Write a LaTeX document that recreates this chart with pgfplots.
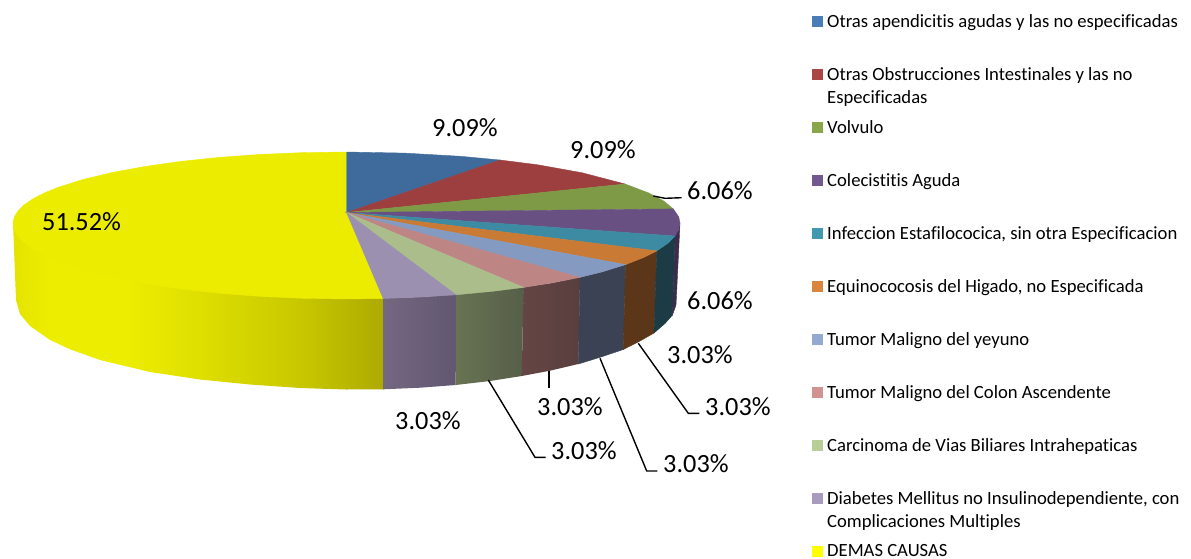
\documentclass[border=0pt]{standalone}
\usepackage{fontspec}
\setmainfont[Ligatures=NoCommon]{Carlito}
\usepackage{pgfplots}
\pgfplotsset{compat=1.18}
\definecolor{tBlue}{HTML}{3F6A9C}
\definecolor{tRed}{HTML}{9C3F3E}
\definecolor{tGreen}{HTML}{7E9A47}
\definecolor{tPurple}{HTML}{685082}
\definecolor{tTeal}{HTML}{3D8BA3}
\definecolor{tOrange}{HTML}{C97A35}
\definecolor{tLBlue}{HTML}{849AC0}
\definecolor{tPink}{HTML}{BE8585}
\definecolor{tLGreen}{HTML}{ABBD8A}
\definecolor{tLav}{HTML}{9B90B0}
\definecolor{tYel}{HTML}{ECEC00}
\definecolor{wPurple}{HTML}{3A2D4C}
\definecolor{wTeal}{HTML}{1C3B45}
\definecolor{wOrange}{HTML}{5B3618}
\definecolor{wLBlue}{HTML}{3B4254}
\definecolor{yA}{HTML}{E3E300}
\definecolor{yB}{HTML}{EDED00}
\definecolor{yC}{HTML}{DFDF00}
\definecolor{yD}{HTML}{C8C800}
\definecolor{yE}{HTML}{AEAA00}
\definecolor{lavA}{HTML}{736880}
\definecolor{lavB}{HTML}{625770}
\definecolor{lgA}{HTML}{687353}
\definecolor{lgB}{HTML}{565F48}
\definecolor{pkA}{HTML}{654544}
\definecolor{pkB}{HTML}{583F3E}
\definecolor{lBlue}{HTML}{4A7CB5}
\definecolor{lRed}{HTML}{AA4644}
\definecolor{lGreen}{HTML}{8AA64A}
\definecolor{lPurple}{HTML}{71588F}
\definecolor{lTeal}{HTML}{4198AF}
\definecolor{lOrange}{HTML}{DB843D}
\definecolor{lLBlue}{HTML}{93A9CF}
\definecolor{lPink}{HTML}{D19392}
\definecolor{lLGreen}{HTML}{B9CD96}
\definecolor{lLav}{HTML}{A99BBD}
\definecolor{lYel}{HTML}{FFFF00}
\pgfdeclarehorizontalshading{ywall}{100bp}{color(0bp)=(yA);color(25bp)=(yA);color(30bp)=(yB);color(40bp)=(yB);color(50bp)=(yC);color(63.5bp)=(yD);color(75bp)=(yE);color(100bp)=(yE)}
\pgfdeclarehorizontalshading{lavwall}{100bp}{color(0bp)=(lavA);color(25bp)=(lavA);color(75bp)=(lavB);color(100bp)=(lavB)}
\pgfdeclarehorizontalshading{lgwall}{100bp}{color(0bp)=(lgA);color(25bp)=(lgA);color(75bp)=(lgB);color(100bp)=(lgB)}
\pgfdeclarehorizontalshading{pkwall}{100bp}{color(0bp)=(pkA);color(25bp)=(pkA);color(75bp)=(pkB);color(100bp)=(pkB)}
\pgfplotsset{
  sl/.style={fill=#1,draw=#1,line width=0.4pt,no markers,forget plot},
  lead/.style={draw=black,line width=1.4pt,no markers,forget plot},
  key/.style={fill=#1,draw=none,no markers,forget plot}
}
\newcommand{\dlab}[2]{\node[anchor=base west,inner sep=0pt,font=\fontsize{26.3}{30}\selectfont] at (axis cs:#1) {#2};}
\newcommand{\ltxt}[2]{\node[anchor=base west,inner sep=0pt,font=\fontsize{18.65}{20}\selectfont] at (axis cs:#1) {#2};}
\begin{document}
\begin{tikzpicture}
\begin{axis}[
  scale only axis, width=1191pt, height=558pt,
  xmin=0, xmax=1191, ymin=0, ymax=558, y dir=reverse,
  hide axis, clip=false
]
\path (rel axis cs:0,0) rectangle (rel axis cs:1,1);
% side walls
\addplot[shade,shading=ywall,draw=none,no markers,forget plot] coordinates {
 (13,223)(16,300)(20,314)(30,326)(50,340)(70,349.3)(100,360)(150,372)(200,379.5)(250,384.5)(300,388)(346,389.5)(383.5,389.3)(383.5,298)} --cycle;
\addplot[shade,shading=lavwall,draw=none,no markers,forget plot] coordinates {
 (383.2,298)(383,389.3)(420,387.7)(455.7,385)(456,294)(421.5,297)} --cycle;
\addplot[shade,shading=lgwall,draw=none,no markers,forget plot] coordinates {
 (456,294)(455.7,385)(490,381)(521.7,376)(523.6,287)(492.6,291)} --cycle;
\addplot[shade,shading=pkwall,draw=none,no markers,forget plot] coordinates {
 (523.6,287)(521.7,376)(550,370.7)(578.3,364)(580,277)(551.9,283)} --cycle;
\addplot[sl=wLBlue] coordinates {(580,277.3)(578.3,364)(601,357)(623.3,349.5)(625.6,264.6)(602,271.9)} --cycle;
\addplot[sl=wOrange] coordinates {(625.6,264.6)(623.3,349.5)(640,341)(654,333)(656.8,250.9)(643.6,257.5)} --cycle;
\addplot[sl=wTeal] coordinates {(656.8,250.9)(654,333)(665,323.5)(672.5,315)(675,236)(668.6,242.7)} --cycle;
\addplot[sl=wPurple] coordinates {(675,236)(672.5,315)(676,305)(680,223)(678.7,229.6)} --cycle;
% top face
\addplot[sl=tYel] coordinates {(346.5,212.5)(346.5,152)(303,152.6)(260.2,154.4)(218.9,157.4)(179.7,161.5)(143.5,166.7)(110.7,172.8)(81.9,179.8)(57.7,187.5)(44.2,193)(33.1,198.7)(24.4,204.6)(18.1,210.7)(14.3,216.8)(13,223)(14.3,229.6)(18.1,236.2)(24.4,242.7)(33.1,249)(44.2,255.1)(57.7,261)(81.9,269.3)(110.7,276.7)(143.5,283.3)(179.7,288.8)(218.9,293.2)(260.2,296.4)(303,298.3)(346.5,299)(383.2,298.5)} --cycle;
\addplot[sl=tBlue] coordinates {(346.5,212.5)(346.5,152)(404.4,153.1)(460.6,156.3)(500,160)} --cycle;
\addplot[sl=tRed] coordinates {(346.5,212.5)(500,160)(537.8,164.8)(582.3,172.8)(625,184)} --cycle;
\addplot[sl=tGreen] coordinates {(346.5,212.5)(625,184)(648.8,193)(663.7,201)(673.3,208.9)} --cycle;
\addplot[sl=tPurple] coordinates {(346.5,212.5)(673.3,208.9)(678.7,216.8)(680,223)(678.7,229.6)(675,236)} --cycle;
\addplot[sl=tTeal] coordinates {(346.5,212.5)(675,236)(668.6,242.7)(656.8,250.9)} --cycle;
\addplot[sl=tOrange] coordinates {(346.5,212.5)(656.8,250.9)(643.6,257.5)(625.6,264.6)} --cycle;
\addplot[sl=tLBlue] coordinates {(346.5,212.5)(625.6,264.6)(602,271.9)(580,277.3)} --cycle;
\addplot[sl=tPink] coordinates {(346.5,212.5)(580,277.3)(551.9,282.9)(523.6,287.4)} --cycle;
\addplot[sl=tLGreen] coordinates {(346.5,212.5)(523.6,287.4)(492.6,291.3)(455.9,294.8)} --cycle;
\addplot[sl=tLav] coordinates {(346.5,212.5)(455.9,294.8)(421.5,297)(383.2,298.5)} --cycle;
% leader lines
\addplot[lead] coordinates {(653.3,196)(665,198.3)(681.7,197.7)};
\addplot[lead] coordinates {(638.3,343.3)(688.3,413.3)(699.3,413.3)};
\addplot[lead] coordinates {(600,358.3)(646.7,471)(657.3,471)};
\addplot[lead] coordinates {(549,370.7)(549,387.7)};
\addplot[lead] coordinates {(488.3,380)(535,457.3)(545.7,457.3)};
% data labels
\dlab{432,136}{9.09\%}
\dlab{570,158}{9.09\%}
\dlab{687,199}{6.06\%}
\dlab{687,309}{6.06\%}
\dlab{667,363}{3.03\%}
\dlab{705,415}{3.03\%}
\dlab{663,472}{3.03\%}
\dlab{537,415}{3.03\%}
\dlab{551,459}{3.03\%}
\dlab{395,429}{3.03\%}
\dlab{42,230}{51.52\%}
% legend keys
\addplot[key=lBlue] coordinates {(812,15.7)(823.3,15.7)(823.3,27)(812,27)} --cycle;
\addplot[key=lRed] coordinates {(812,69)(823.3,69)(823.3,80.3)(812,80.3)} --cycle;
\addplot[key=lGreen] coordinates {(812,121.7)(823.3,121.7)(823.3,133)(812,133)} --cycle;
\addplot[key=lPurple] coordinates {(812,175)(823.3,175)(823.3,186.3)(812,186.3)} --cycle;
\addplot[key=lTeal] coordinates {(812,227.7)(823.3,227.7)(823.3,239)(812,239)} --cycle;
\addplot[key=lOrange] coordinates {(812,281)(823.3,281)(823.3,292.3)(812,292.3)} --cycle;
\addplot[key=lLBlue] coordinates {(812,334)(823.3,334)(823.3,345.3)(812,345.3)} --cycle;
\addplot[key=lPink] coordinates {(812,387)(823.3,387)(823.3,398.3)(812,398.3)} --cycle;
\addplot[key=lLGreen] coordinates {(812,440)(823.3,440)(823.3,451.3)(812,451.3)} --cycle;
\addplot[key=lLav] coordinates {(812,493)(823.3,493)(823.3,504.3)(812,504.3)} --cycle;
\addplot[key=lYel] coordinates {(812,546)(823.3,546)(823.3,557.3)(812,557.3)} --cycle;
% legend text
\ltxt{827,27}{Otras apendicitis agudas y las no especificadas}
\ltxt{827,80}{Otras Obstrucciones Intestinales y las no}
\ltxt{827,103}{Especificadas}
\ltxt{827,133}{Volvulo}
\ltxt{827,186}{Colecistitis Aguda}
\ltxt{827,239}{Infeccion Estafilococica, sin otra Especificacion}
\ltxt{827,292}{Equinococosis del Higado, no Especificada}
\ltxt{827,345}{Tumor Maligno del yeyuno}
\ltxt{827,398}{Tumor Maligno del Colon Ascendente}
\ltxt{827,451}{Carcinoma de Vias Biliares Intrahepaticas}
\ltxt{827,504}{Diabetes Mellitus no Insulinodependiente, con}
\ltxt{827,527}{Complicaciones Multiples}
\ltxt{827,556}{DEMAS CAUSAS}
\end{axis}
\end{tikzpicture}
\end{document}
